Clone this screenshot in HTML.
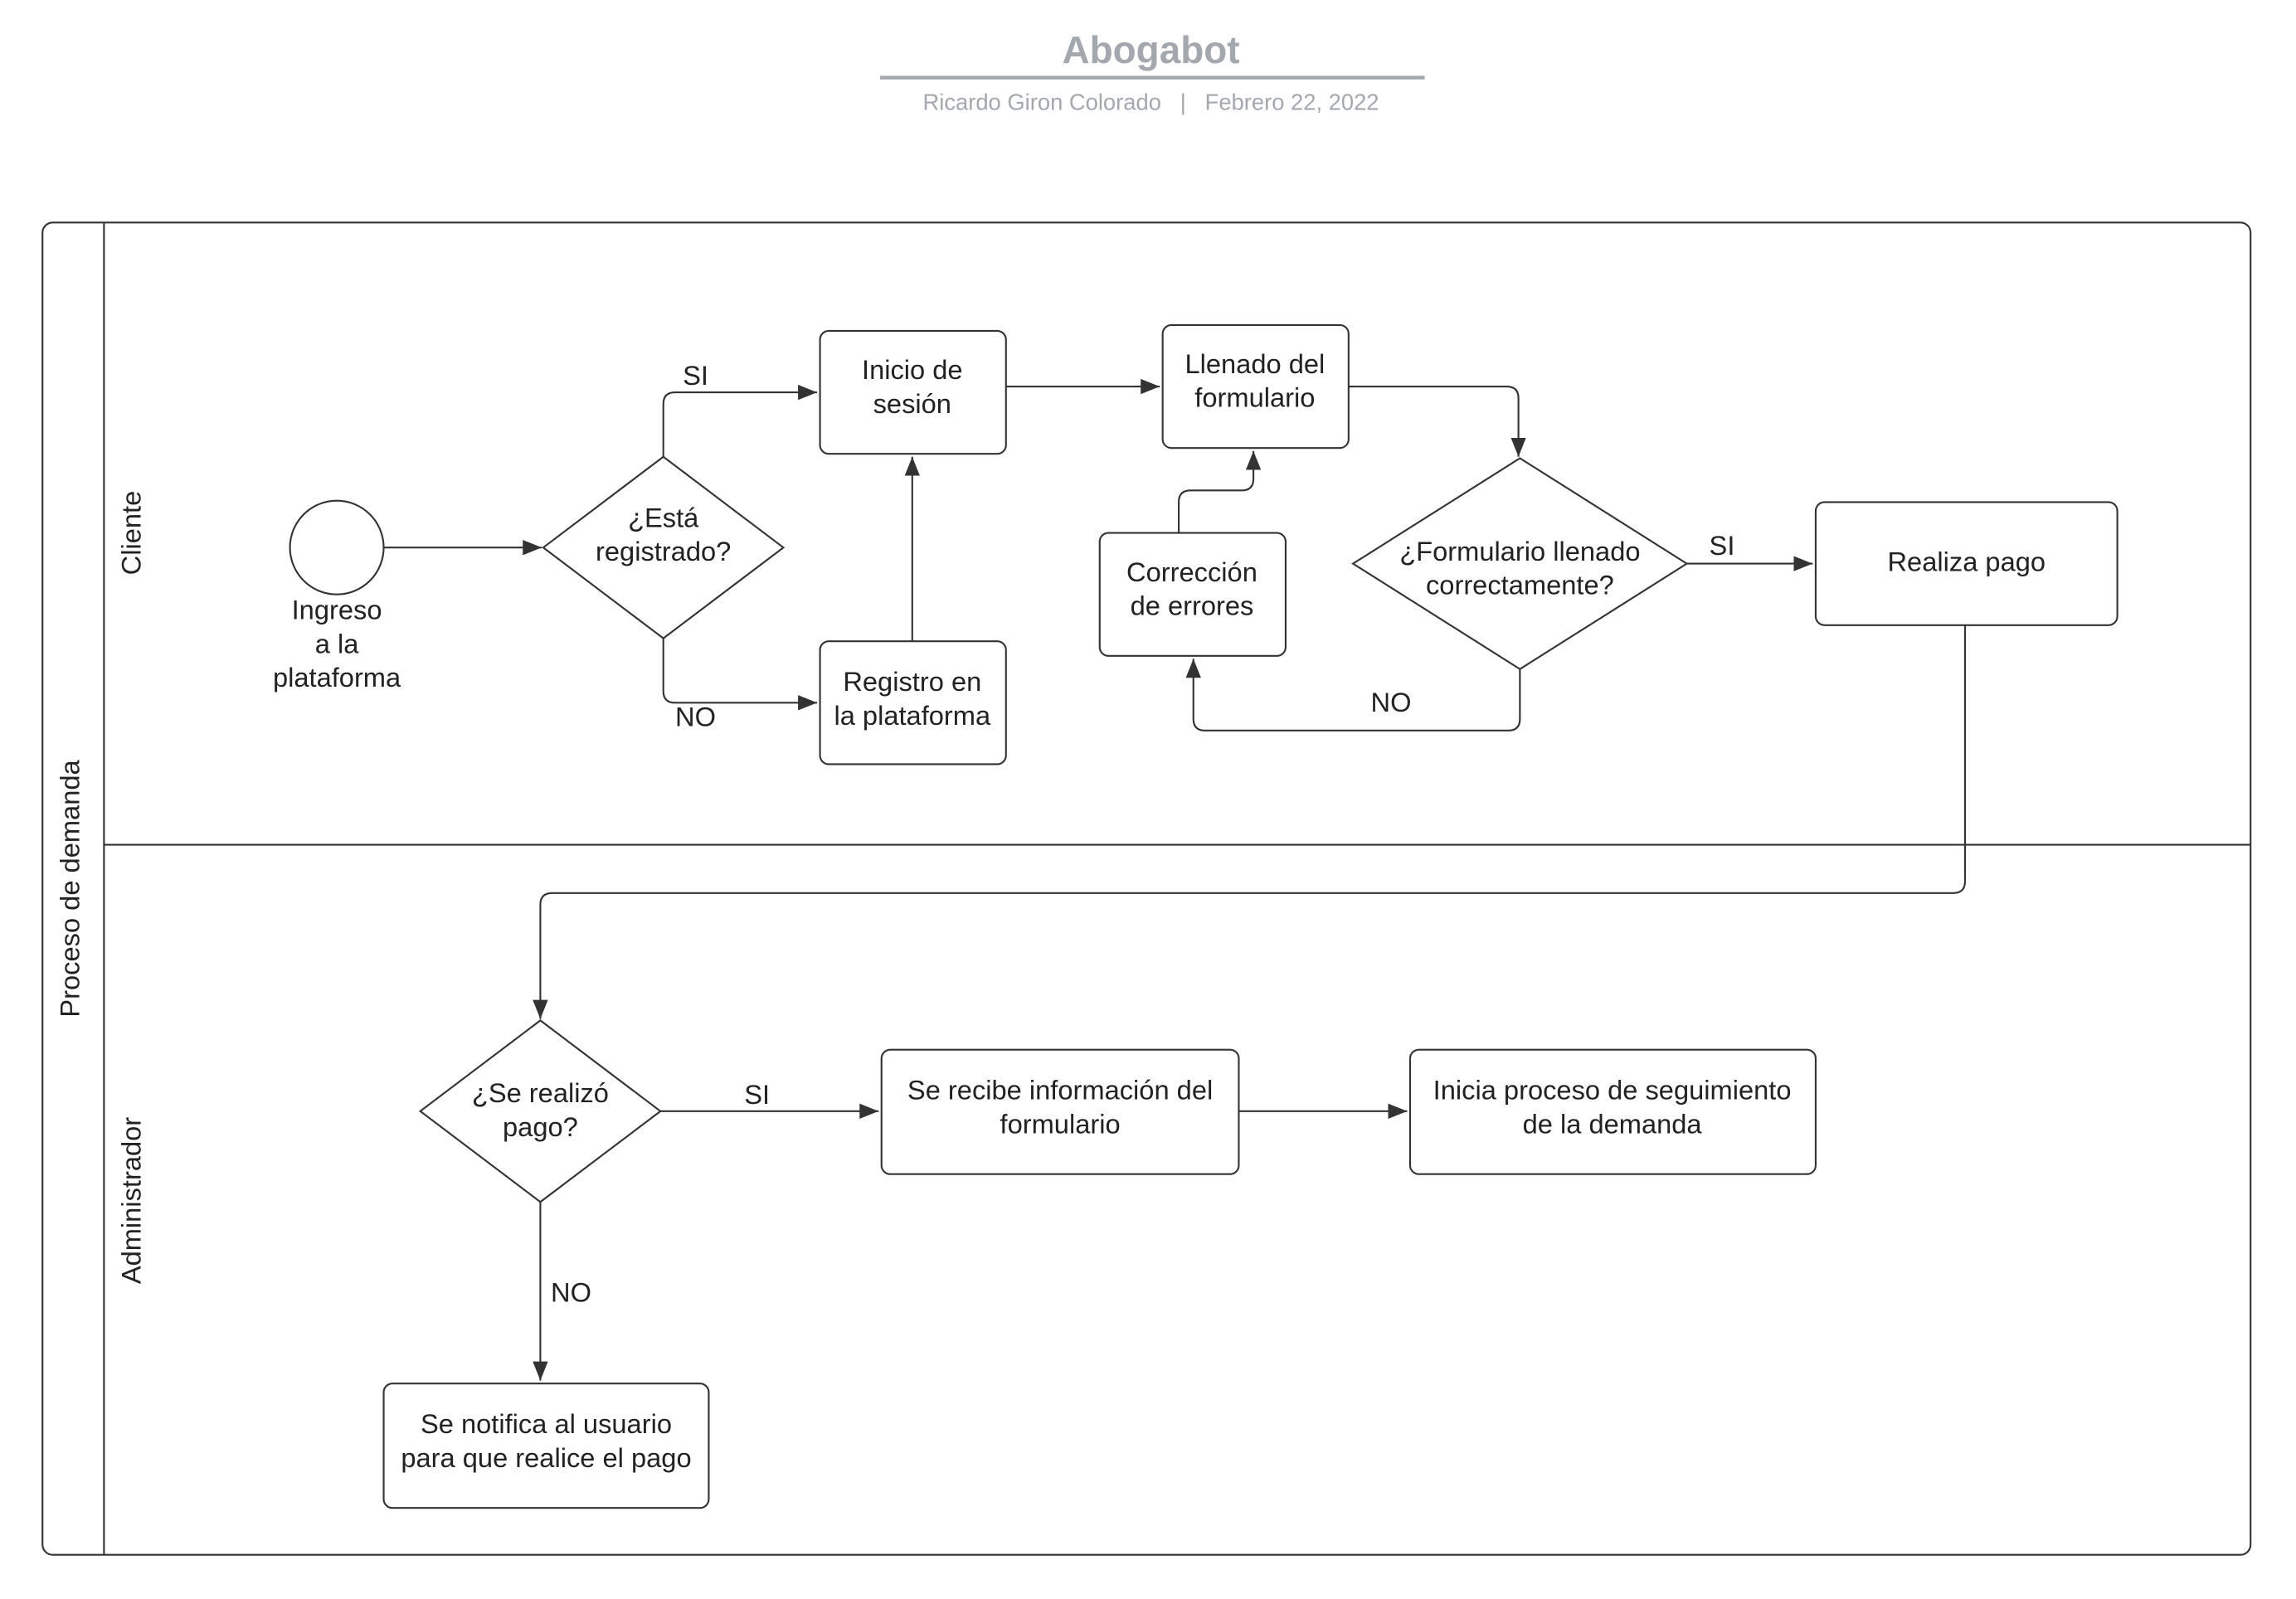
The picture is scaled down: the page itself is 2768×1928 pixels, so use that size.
<!DOCTYPE html>
<html><head><meta charset="utf-8"><style>html,body{margin:0;padding:0;background:#fff}svg{display:block}</style></head>
<body>
<svg width="2768" height="1928" viewBox="0 0 1568 1092.2" xmlns="http://www.w3.org/2000/svg" font-family="Liberation Sans, sans-serif">
<defs>
<marker id="b" viewBox="0 0 10 10" refX="10" refY="5" markerWidth="13" markerHeight="13" markerUnits="userSpaceOnUse" orient="auto"><path d="M0,1L10,5L0,9z" fill="#333"/></marker></defs>
<text x="786" y="43" text-anchor="middle" font-size="26" font-weight="bold" fill="#a3a7ae">Abogabot</text>
<line x1="601" y1="53" x2="973" y2="53" stroke="#a3a7ae" stroke-width="2.5"/>
<text x="786" y="75" text-anchor="middle" font-size="15.5" fill="#a3a7ae" xml:space="preserve">Ricardo Giron Colorado   |   Febrero 22, 2022</text>
<g fill="none" stroke="#333" stroke-width="1.2">
<rect x="29" y="152" width="1508" height="910" rx="7"/>
<line x1="71" y1="152" x2="71" y2="1062"/>
<line x1="71" y1="577" x2="1537" y2="577"/>
<circle cx="230" cy="374" r="32"/>
<path d="M453,312 L535,374 L453,436 L371,374Z"/>
<path d="M1038,313 L1152,385 L1038,457 L924,385Z"/>
<path d="M369,697 L451,759 L369,821 L287,759Z"/>
<rect x="560" y="226" width="127" height="84" rx="6"/>
<rect x="560" y="438" width="127" height="84" rx="6"/>
<rect x="794" y="222" width="127" height="84" rx="6"/>
<rect x="751" y="364" width="127" height="84" rx="6"/>
<rect x="1240" y="343" width="206" height="84" rx="6"/>
<rect x="602" y="717" width="244" height="85" rx="6"/>
<rect x="963" y="717" width="277" height="85" rx="6"/>
<rect x="262" y="945" width="222" height="85" rx="6"/>
</g>
<g fill="none" stroke="#333" stroke-width="1.2" marker-end="url(#b)">
<path d="M262,374 H370"/>
<path d="M453,312 V276 Q453,268 461,268 H558"/>
<path d="M453,436 V472 Q453,480 461,480 H558"/>
<path d="M623,438 V312"/>
<path d="M687,264 H792"/>
<path d="M921,264 H1029 Q1037,264 1037,272 V312"/>
<path d="M1152,385 H1238"/>
<path d="M1038,457 V491 Q1038,499 1030,499 H823 Q815,499 815,491 V450"/>
<path d="M805,364 V343 Q805,335 813,335 H848 Q856,335 856,327 V308"/>
<path d="M1342,427 V602 Q1342,610 1334,610 H377 Q369,610 369,618 V696"/>
<path d="M451,759 H600"/>
<path d="M846,759 H961"/>
<path d="M369,821 V943"/>
</g>
<g font-size="18.5" fill="#222" text-anchor="middle">
<text x="48" y="607" transform="rotate(-90 48 607)" dy="6">Proceso de demanda</text>
<text x="90" y="364" transform="rotate(-90 90 364)" dy="6">Cliente</text>
<text x="90" y="820" transform="rotate(-90 90 820)" dy="6">Administrador</text>
<text x="230" y="423">Ingreso</text><text x="230" y="446">a la</text><text x="230" y="469">plataforma</text>
<text x="453" y="360">¿Está</text><text x="453" y="383">registrado?</text>
<text x="475" y="263">SI</text><text x="475" y="496">NO</text>
<text x="623" y="259">Inicio de</text><text x="623" y="282">sesión</text>
<text x="623" y="472">Registro en</text><text x="623" y="495">la plataforma</text>
<text x="857" y="255">Llenado del</text><text x="857" y="278">formulario</text>
<text x="814" y="397">Corrección</text><text x="814" y="420">de errores</text>
<text x="1038" y="383">¿Formulario llenado</text><text x="1038" y="406">correctamente?</text>
<text x="1176" y="379">SI</text><text x="950" y="486">NO</text>
<text x="1343" y="390">Realiza pago</text>
<text x="369" y="753">¿Se realizó</text><text x="369" y="776">pago?</text>
<text x="517" y="754">SI</text><text x="390" y="889">NO</text>
<text x="724" y="751">Se recibe información del</text><text x="724" y="774">formulario</text>
<text x="1101" y="751">Inicia proceso de seguimiento</text><text x="1101" y="774">de la demanda</text>
<text x="373" y="979">Se notifica al usuario</text><text x="373" y="1002">para que realice el pago</text>
</g>
</svg>
</body></html>
